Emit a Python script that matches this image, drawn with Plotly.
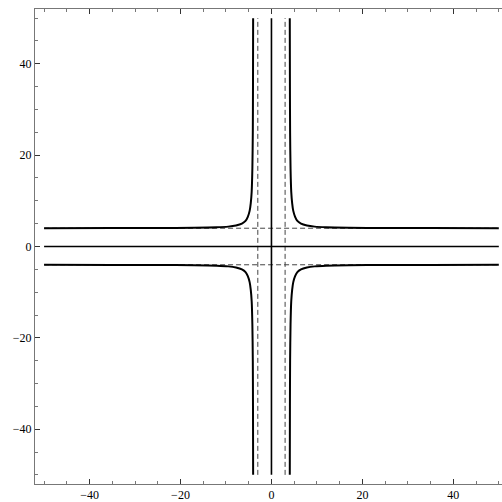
""" curves with dashed asymptotes, mathematica-style frame """

import plotly.graph_objects as go

# one branch (upper right)
branch_x = [4.03, 4.06, 4.1, 4.2, 4.35, 4.55, 4.8, 5.2, 5.7, 6.5, 7.8, 9.5, 12, 17, 25, 35, 50]
branch_y = [50, 35, 25, 17, 12, 9.5, 7.8, 6.5, 5.6, 5.0, 4.6, 4.35, 4.2, 4.1, 4.06, 4.04, 4.02]

# quadrant signs for the four branches
quadrants = [(1, 1), (-1, 1), (1, -1), (-1, -1)]

# dashed lines
dashed_x = [-3, 3]
dashed_y = [-4, 4]
line_extent = [-50, 50]

tick_vals = [-40, -20, 0, 20, 40]

fig = go.Figure()

# dashed guides
for xv in dashed_x:
    fig.add_trace(go.Scatter(x=[xv, xv], y=line_extent, mode="lines",
                             line=dict(color="#444444", width=1, dash="5px,3px")))
for yv in dashed_y:
    fig.add_trace(go.Scatter(x=line_extent, y=[yv, yv], mode="lines",
                             line=dict(color="#444444", width=1, dash="5px,3px")))

# solid axis lines
fig.add_trace(go.Scatter(x=[0, 0], y=line_extent, mode="lines",
                         line=dict(color="black", width=1.6)))
fig.add_trace(go.Scatter(x=line_extent, y=[0, 0], mode="lines",
                         line=dict(color="black", width=1.6)))

# the four branches
for sx, sy in quadrants:
    fig.add_trace(go.Scatter(
        x=[sx * v for v in branch_x],
        y=[sy * v for v in branch_y],
        mode="lines",
        line=dict(color="black", width=2, shape="spline", smoothing=0.6),
    ))

axis_common = dict(
    showgrid=False, zeroline=False, automargin=False,
    showline=True, linecolor="#777777", linewidth=1,
    ticks="inside", ticklen=5, tickwidth=1, tickcolor="#333333",
    tickvals=tick_vals,
    minor=dict(dtick=5, ticks="inside", ticklen=3, tickcolor="#777777", tickwidth=1),
    tickfont=dict(family="Liberation Serif", size=12, color="black"),
)

fig.update_xaxes(range=[-52, 50.7], mirror="ticks", **axis_common)
fig.update_yaxes(range=[-52, 52], mirror=False, **axis_common)

fig.update_layout(
    width=502, height=502,
    showlegend=False,
    font=dict(family="Liberation Serif"),
    plot_bgcolor="white", paper_bgcolor="white",
    margin=dict(l=35, r=0, t=9, b=18, autoexpand=False),
)

# drop the default page margin so the figure sits at the window corner
fig.write_html("out.html", config={"displayModeBar": False},
               post_script="document.body.style.margin='0';")
